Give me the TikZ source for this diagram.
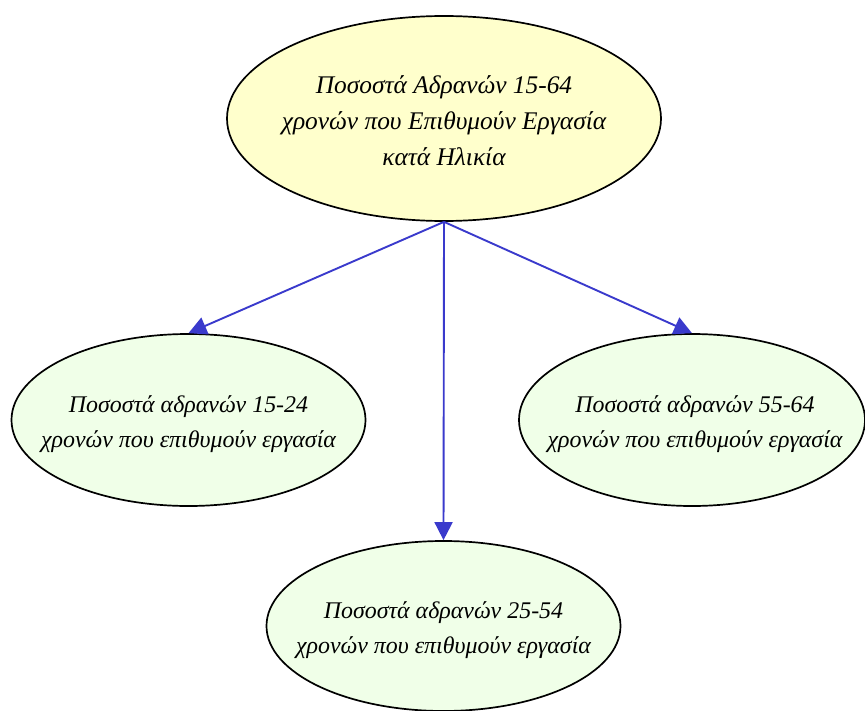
\documentclass[tikz,border=0pt]{standalone}
\usepackage{fontspec}
\setmainfont{Liberation Serif}
\usetikzlibrary{shapes.geometric,arrows.meta}
\definecolor{edgeblue}{HTML}{3A3ACC}
\definecolor{topfill}{HTML}{FFFFCC}
\definecolor{leaffill}{HTML}{F0FFE8}
\tikzset{
  ell/.style={ellipse,draw=black,line width=1.7bp,inner sep=0pt},
  topnode/.style={ell,fill=topfill,minimum width=434bp,minimum height=205bp},
  leafnode/.style={ell,fill=leaffill,minimum width=354bp,minimum height=172bp},
  txt/.style={align=center,inner sep=0pt,font=\fontsize{24}{35}\selectfont\itshape},
  toptxt/.style={txt,font=\fontsize{25.5}{36}\selectfont\itshape},
  conn/.style={draw=edgeblue,line width=1.9bp,-{Triangle[length=18bp,width=18bp,fill=edgeblue]}}
}
\begin{document}
\begin{tikzpicture}[x=1bp,y=-1bp]
\useasboundingbox (0,0) rectangle (865,711);
\node[topnode] (top) at (444,118.5) {};
\node[toptxt] (topt) at (444,121) {Ποσοστά Αδρανών 15-64\\χρονών που Επιθυμούν Εργασία\\κατά Ηλικία};
\node[leafnode] (l) at (188.5,420) {};
\node[txt] (lt) at (188.5,424) {Ποσοστά αδρανών 15-24\\χρονών που επιθυμούν εργασία};
\node[leafnode,minimum width=346bp] (r) at (692,420) {};
\node[txt] (rt) at (695,424) {Ποσοστά αδρανών 55-64\\χρονών που επιθυμούν εργασία};
\node[leafnode,minimum height=170bp] (b) at (443.5,626) {};
\node[txt] (bt) at (443.5,630) {Ποσοστά αδρανών 25-54\\χρονών που επιθυμούν εργασία};
\coordinate (s) at (top.south);
\draw[conn] (s) -- (l.north);
\draw[conn] (s) -- (r.north);
\draw[conn] (s) -- (b.north);
\end{tikzpicture}
\end{document}
